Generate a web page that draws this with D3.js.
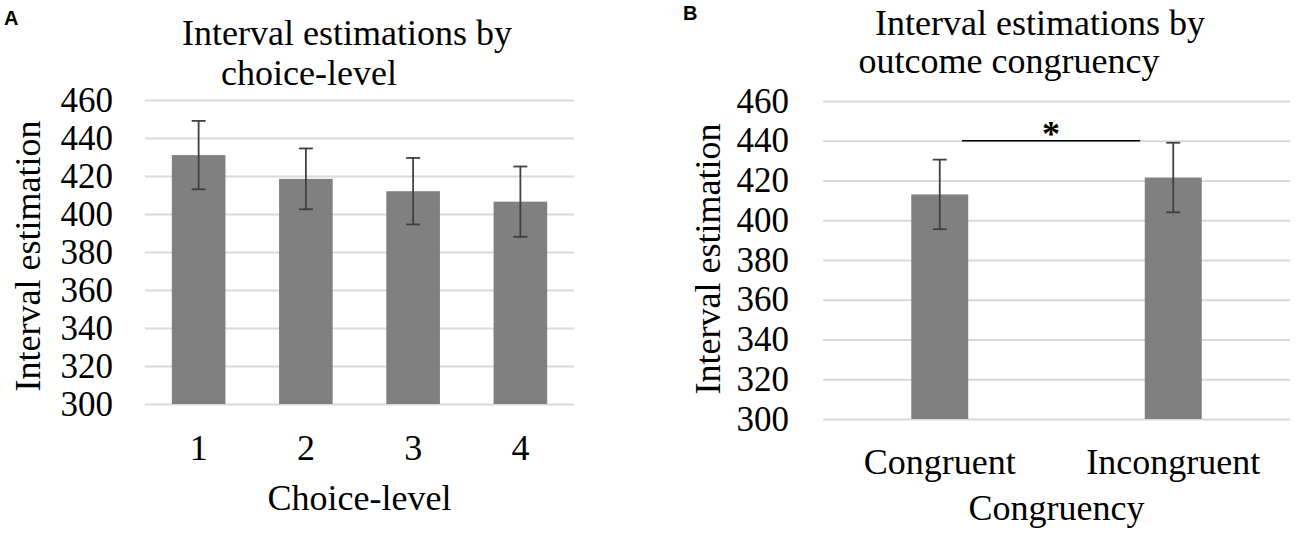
<!DOCTYPE html>
<html>
<head>
<meta charset="utf-8">
<script src="https://cdn.jsdelivr.net/npm/d3@7"></script>
<style>
  body { margin: 0; background: #fff; }
</style>
</head>
<body>
<div class="chart"></div>
<script>
// Panel A: interval estimation by choice-level
var choiceLevels = ["1", "2", "3", "4"];
var choiceMeans = [431, 418.5, 412, 406.5];
var choiceErrors = [18, 16, 17.5, 18.5];

// Panel B: interval estimation by outcome congruency
var congruencyGroups = ["Congruent", "Incongruent"];
var congruencyMeans = [413, 421.5];
var congruencyErrors = [17.5, 17.5];

// shared y ticks and the significance marker of panel B
var yTicks = [300, 320, 340, 360, 380, 400, 420, 440, 460];
var sigLevel = 440;
var sigLabel = "*";

var serif = "'Liberation Serif', 'Times New Roman', Times, serif";
var sans = "'Liberation Sans', Arial, Helvetica, sans-serif";

var svgWidth = 1300;
var svgHeight = 538;

var svg = d3.select(".chart")
  .append("svg")
  .attr("width", svgWidth)
  .attr("height", svgHeight);

svg.append("rect")
  .attr("width", svgWidth)
  .attr("height", svgHeight)
  .attr("fill", "#fff");

// draws one bar panel with gridlines, error bars and labels
function drawPanel(p) {
  var x = d3.scaleBand()
    .domain(p.categories)
    .range([p.left, p.right])
    .padding(0);

  var y = d3.scaleLinear()
    .domain([300, 460])
    .range([p.bottom, p.top]);

  var g = svg.append("g");

  // gridlines + tick labels
  var yAxis = g.append("g")
    .attr("transform", `translate(${p.left}, 0)`)
    .call(d3.axisLeft(y)
      .tickValues(yTicks)
      .tickSize(-(p.right - p.left))
      .tickPadding(p.tickPad));
  yAxis.select(".domain").remove();
  yAxis.selectAll("line")
    .attr("stroke", "#d9d9d9")
    .attr("stroke-width", 2);
  yAxis.selectAll("text")
    .style("font-family", serif)
    .style("font-size", "35px")
    .attr("fill", "#000");

  var rows = p.categories.map((c, i) => ({ cat: c, mean: p.means[i], err: p.errors[i] }));
  var barW = x.bandwidth() * p.barFrac;

  // bars
  g.selectAll(".bar")
    .data(rows)
    .enter()
    .append("rect")
    .attr("class", "bar")
    .attr("x", d => x(d.cat) + (x.bandwidth() - barW) / 2)
    .attr("y", d => y(d.mean))
    .attr("width", barW)
    .attr("height", d => y(300) - y(d.mean))
    .attr("fill", "#808080");

  // error bars
  var eb = g.selectAll(".err")
    .data(rows)
    .enter()
    .append("g")
    .attr("class", "err")
    .attr("stroke", "#404040")
    .attr("stroke-width", 1.8);
  var cx = d => x(d.cat) + x.bandwidth() / 2;
  eb.append("line")
    .attr("x1", cx).attr("x2", cx)
    .attr("y1", d => y(d.mean - d.err))
    .attr("y2", d => y(d.mean + d.err));
  eb.append("line")
    .attr("x1", d => cx(d) - 7).attr("x2", d => cx(d) + 7)
    .attr("y1", d => y(d.mean + d.err))
    .attr("y2", d => y(d.mean + d.err));
  eb.append("line")
    .attr("x1", d => cx(d) - 7).attr("x2", d => cx(d) + 7)
    .attr("y1", d => y(d.mean - d.err))
    .attr("y2", d => y(d.mean - d.err));

  // category labels
  var xAxis = g.append("g")
    .attr("transform", `translate(0, ${p.bottom})`)
    .call(d3.axisBottom(x).tickSize(0));
  xAxis.select(".domain").remove();
  xAxis.selectAll("text")
    .attr("y", p.catBaseline - p.bottom)
    .attr("dy", 0)
    .style("font-family", serif)
    .style("font-size", "36px")
    .attr("fill", "#000");

  // chart title (two lines)
  p.title.forEach(t => {
    g.append("text")
      .attr("x", t.x)
      .attr("y", t.y)
      .attr("text-anchor", "middle")
      .style("font-family", serif)
      .style("font-size", "36px")
      .text(t.text);
  });

  // axis titles
  g.append("text")
    .attr("x", (p.left + p.right) / 2)
    .attr("y", p.xTitleY)
    .attr("text-anchor", "middle")
    .style("font-family", serif)
    .style("font-size", "36px")
    .text(p.xTitle);

  g.append("text")
    .attr("transform", `translate(${p.yTitleX}, ${p.yTitleCY}) rotate(-90)`)
    .attr("text-anchor", "middle")
    .style("font-family", serif)
    .style("font-size", "36px")
    .text("Interval estimation");

  // panel letter
  g.append("text")
    .attr("x", p.letterX)
    .attr("y", p.letterY)
    .style("font-family", sans)
    .style("font-weight", "bold")
    .style("font-size", "20px")
    .text(p.letter);

  return { x: x, y: y, g: g };
}

var panelA = drawPanel({
  categories: choiceLevels,
  means: choiceMeans,
  errors: choiceErrors,
  left: 145, right: 574, top: 100, bottom: 404,
  barFrac: 0.5,
  tickPad: 32,
  catBaseline: 460,
  title: [
    { text: "Interval estimations by", x: 347, y: 45 },
    { text: "choice-level", x: 309, y: 85 }
  ],
  xTitle: "Choice-level",
  xTitleY: 510,
  yTitleX: 40, yTitleCY: 256,
  letter: "A", letterX: 4, letterY: 25
});

var panelB = drawPanel({
  categories: congruencyGroups,
  means: congruencyMeans,
  errors: congruencyErrors,
  left: 823, right: 1290, top: 101, bottom: 419,
  barFrac: 0.244,
  tickPad: 34,
  catBaseline: 474,
  title: [
    { text: "Interval estimations by", x: 1040, y: 35 },
    { text: "outcome congruency", x: 1009, y: 73 }
  ],
  xTitle: "Congruency",
  xTitleY: 520,
  yTitleX: 720, yTitleCY: 259,
  letter: "B", letterX: 683, letterY: 20
});

// significance bracket between the two congruency bars
var xB = panelB.x;
var sigX1 = xB(congruencyGroups[0]) + xB.bandwidth() * 0.595;
var sigX2 = xB(congruencyGroups[1]) + xB.bandwidth() * 0.358;
panelB.g.append("line")
  .attr("x1", sigX1)
  .attr("x2", sigX2)
  .attr("y1", panelB.y(sigLevel))
  .attr("y2", panelB.y(sigLevel))
  .attr("stroke", "#000")
  .attr("stroke-width", 1.6);
panelB.g.append("text")
  .attr("x", (sigX1 + sigX2) / 2)
  .attr("y", panelB.y(sigLevel) + 5)
  .attr("text-anchor", "middle")
  .style("font-family", serif)
  .style("font-size", "36px")
  .style("font-weight", "bold")
  .text(sigLabel);
</script>
</body>
</html>
